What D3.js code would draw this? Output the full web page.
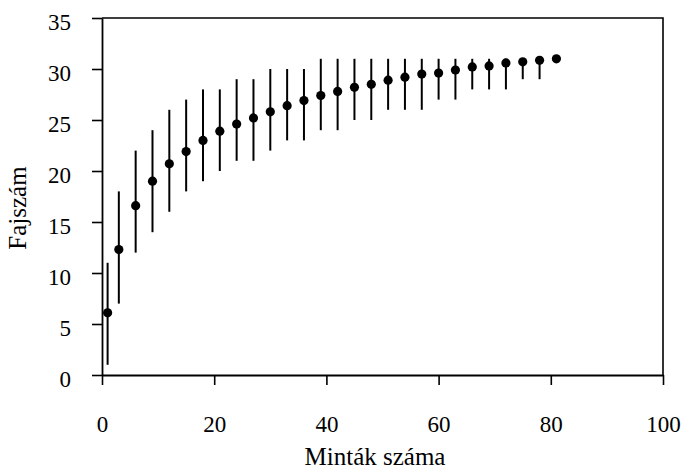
<!DOCTYPE html>
<html>
<head>
<meta charset="utf-8">
<script src="https://cdn.jsdelivr.net/npm/d3@7/dist/d3.min.js"></script>
<style>
  html, body { margin: 0; padding: 0; background: #fff; }
  svg { display: block; }
  text { font-family: "Liberation Serif", "Times New Roman", serif; fill: #000; }
</style>
</head>
<body>
<svg id="chart" width="682" height="469"></svg>
<script>
// Data
const samples = [1, 3, 6, 9, 12, 15, 18, 21, 24, 27, 30, 33, 36, 39, 42, 45, 48, 51, 54, 57, 60, 63, 66, 69, 72, 75, 78, 81];
const meanSpecies = [6.1, 12.3, 16.6, 19.0, 20.7, 21.9, 23.0, 23.9, 24.6, 25.2, 25.8, 26.4, 26.9, 27.4, 27.8, 28.2, 28.5, 28.9, 29.2, 29.5, 29.6, 29.9, 30.2, 30.3, 30.6, 30.7, 30.85, 31.0];
const lowSpecies  = [1, 7, 12, 14, 16, 18, 19, 20, 21, 21, 22, 23, 23, 24, 24, 25, 25, 26, 26, 26, 27, 27, 28, 28, 28, 29, 29, 31];
const highSpecies = [11, 18, 22, 24, 26, 27, 28, 28, 29, 29, 30, 30, 30, 31, 31, 31, 31, 31, 31, 31, 31, 31, 31, 31, 31, 31, 31, 31];
const xTicks = [0, 20, 40, 60, 80, 100];
const yTicks = [0, 5, 10, 15, 20, 25, 30, 35];
const xTitle = "Minták száma";
const yTitle = "Fajszám";

(function () {
const svg = d3.select("#chart");
const mL = 102, mR = 663, mT = 18, mB = 375;

const x = d3.scaleLinear().domain([0, 100]).range([mL, mR]);
const y = d3.scaleLinear().domain([0, 35]).range([mB, mT]);

const data = samples.map((s, i) => ({ s, m: meanSpecies[i], lo: lowSpecies[i], hi: highSpecies[i] }));

// Frame (top and right borders)
svg.append("path")
  .attr("d", `M${mL},${mT}H${mR}V${mB}`)
  .attr("fill", "none").attr("stroke", "#000").attr("stroke-width", 1.6);

// X axis
const gx = svg.append("g").attr("transform", `translate(0,${mB})`)
  .call(d3.axisBottom(x).tickValues(xTicks).tickSize(10).tickSizeOuter(0).tickPadding(31));
// Y axis
const gy = svg.append("g").attr("transform", `translate(${mL},0)`)
  .call(d3.axisLeft(y).tickValues(yTicks).tickSize(10).tickSizeOuter(0).tickPadding(21));

[gx, gy].forEach(g => {
  g.select(".domain").attr("stroke", "#000").attr("stroke-width", 1.8);
  g.selectAll(".tick line").attr("stroke", "#000").attr("stroke-width", 1.6);
  g.selectAll(".tick text").attr("font-size", 23)
    .attr("font-family", "Liberation Serif, Times New Roman, serif").attr("fill", "#000");
});
gx.selectAll(".tick text").attr("dy", "0.71em");
gy.selectAll(".tick text").attr("dy", "0.48em");

// Error bars
svg.append("g").selectAll("line").data(data).join("line")
  .attr("x1", d => x(d.s)).attr("x2", d => x(d.s))
  .attr("y1", d => y(d.lo)).attr("y2", d => y(d.hi))
  .attr("stroke", "#000").attr("stroke-width", 2);

// Points
svg.append("g").selectAll("circle").data(data).join("circle")
  .attr("cx", d => x(d.s)).attr("cy", d => y(d.m))
  .attr("r", 4.6).attr("fill", "#000");

// Axis titles
svg.append("text")
  .attr("x", 375).attr("y", 465)
  .attr("text-anchor", "middle").attr("font-size", 25)
  .text(xTitle);

svg.append("text")
  .attr("transform", "translate(26,208) rotate(-90)")
  .attr("text-anchor", "middle").attr("font-size", 25)
  .text(yTitle);
})();
</script>
</body>
</html>
